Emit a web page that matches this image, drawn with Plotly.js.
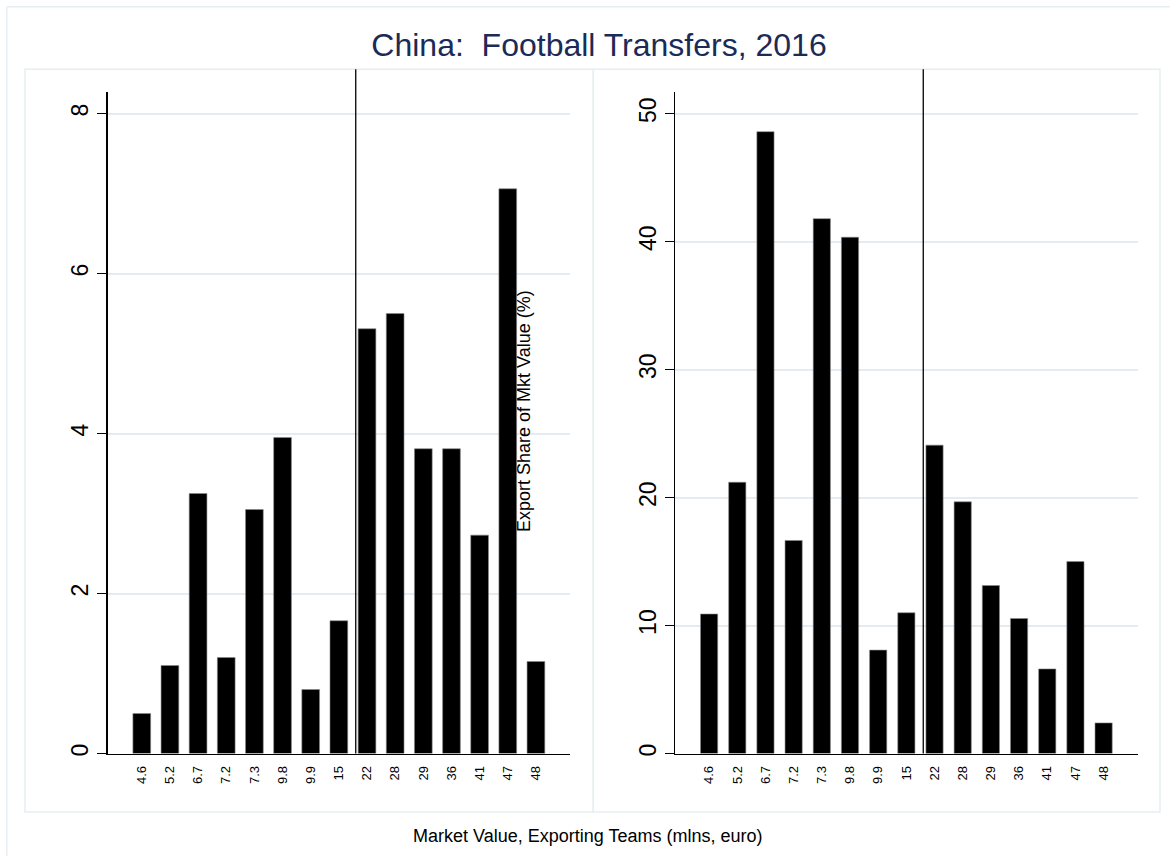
<!DOCTYPE html>
<html>
<head>
<meta charset="utf-8">
<script src="https://cdn.plot.ly/plotly-3.0.1.min.js"></script>
<style>html,body{margin:0;padding:0;background:#fff;}#chart{width:1170px;height:856px;}</style>
</head>
<body>
<div id="chart"></div>
<script>
// ---- data ----
const categories = ['4.6','5.2','6.7','7.2','7.3','9.8','9.9','15','22','28','29','36','41','47','48'];
const leftValues  = [0.50, 1.10, 3.25, 1.20, 3.05, 3.95, 0.80, 1.66, 5.31, 5.50, 3.81, 3.81, 2.73, 7.06, 1.15];
const rightValues = [10.9, 21.2, 48.6, 16.65, 41.8, 40.35, 8.08, 11.0, 24.1, 19.67, 13.13, 10.55, 6.61, 15.0, 2.39];
const leftTicks  = [0, 2, 4, 6, 8];
const rightTicks = [0, 10, 20, 30, 40, 50];
const splitPosition = 7.6;   // reference line between 15 and 22
const titleText = 'China:\u00a0\u00a0Football Transfers, 2016';
const yTitleText = 'Export Share of Mkt Value (%)';
const xTitleText = 'Market Value, Exporting Teams (mlns, euro)';

const W = 1170, H = 856;
const px = v => v / W;
const py = v => 1 - v / H;
const FONT = 'Liberation Sans, Arial, sans-serif';

const barStyle = {color: '#000000', line: {color: '#8a8a8a', width: 0.6}};

const traces = [
  {type: 'bar', x: categories, y: leftValues, xaxis: 'x', yaxis: 'y', marker: barStyle, width: 0.63, hoverinfo: 'x+y'},
  {type: 'bar', x: categories, y: rightValues, xaxis: 'x2', yaxis: 'y2', marker: barStyle, width: 0.61, hoverinfo: 'x+y'}
];

const yDomain = [py(753.5), py(92)];
const gridColor = '#e4ebf1';
const xCommon = {
  type: 'category', range: [-1.21, 15.21], showline: true, linecolor: '#000', linewidth: 1.3,
  ticks: '', showgrid: false, zeroline: false, tickangle: -90,
  tickfont: {family: FONT, size: 13, color: '#000'}, ticklabelstandoff: 6, fixedrange: true
};
const yCommon = {
  showline: true, linecolor: '#000', linewidth: 1.3, ticks: 'outside', ticklen: 9, tickwidth: 1.3,
  tickcolor: '#000', showgrid: true, gridcolor: gridColor, gridwidth: 2, zeroline: false,
  tickangle: -90, tickfont: {family: FONT, size: 23, color: '#000'}, ticklabelstandoff: 0, fixedrange: true
};

const boxColor = '#e7eef2';
const shapes = [
  // outer border (left & top visible)
  {type: 'line', xref: 'paper', yref: 'paper', x0: px(6.7), x1: px(6.7), y0: py(6.7), y1: py(900), line: {color: boxColor, width: 1.5}},
  {type: 'line', xref: 'paper', yref: 'paper', x0: px(6.7), x1: px(1200), y0: py(6.7), y1: py(6.7), line: {color: boxColor, width: 1.5}},
  // panel boxes
  {type: 'rect', xref: 'paper', yref: 'paper', x0: px(25), x1: px(593.3), y0: py(812), y1: py(69.3), line: {color: boxColor, width: 1.5}, layer: 'below'},
  {type: 'rect', xref: 'paper', yref: 'paper', x0: px(593.3), x1: px(1160), y0: py(812), y1: py(69.3), line: {color: boxColor, width: 1.5}, layer: 'below'},
  // vertical reference lines
  {type: 'line', xref: 'x', yref: 'y domain', x0: splitPosition, x1: splitPosition, y0: 0, y1: (753.5 - 69.3) / (753.5 - 92), line: {color: '#000', width: 1.3}},
  {type: 'line', xref: 'x2', yref: 'y2 domain', x0: splitPosition, x1: splitPosition, y0: 0, y1: (753.5 - 69.3) / (753.5 - 92), line: {color: '#000', width: 1.3}}
];

const layout = {
  width: W, height: H,
  margin: {l: 0, r: 0, t: 0, b: 0},
  paper_bgcolor: '#ffffff', plot_bgcolor: 'rgba(0,0,0,0)',
  showlegend: false,
  bargap: 0.37,
  font: {family: FONT, color: '#000'},
  title: {text: titleText, x: px(599), xanchor: 'center', y: py(45), yanchor: 'middle', font: {family: FONT, size: 32, color: '#1c2b56'}},
  xaxis: Object.assign({}, xCommon, {domain: [px(107.7), px(570)], anchor: 'y'}),
  yaxis: Object.assign({}, yCommon, {domain: yDomain, range: [0, 8.27], tickvals: leftTicks, anchor: 'x'}),
  xaxis2: Object.assign({}, xCommon, {domain: [px(675), px(1137.7)], anchor: 'y2'}),
  yaxis2: Object.assign({}, yCommon, {domain: yDomain, range: [0, 51.7], tickvals: rightTicks, anchor: 'x2'}),
  shapes: shapes,
  annotations: [
    {text: yTitleText, xref: 'paper', yref: 'paper', x: px(524), y: py(411), xanchor: 'center', yanchor: 'middle', textangle: -90, showarrow: false, font: {family: FONT, size: 18, color: '#000'}},
    {text: xTitleText, xref: 'paper', yref: 'paper', x: px(587), y: py(836), xanchor: 'center', yanchor: 'middle', showarrow: false, font: {family: FONT, size: 18, color: '#000'}}
  ]
};

Plotly.newPlot('chart', traces, layout, {staticPlot: true, displayModeBar: false});
</script>
</body>
</html>
